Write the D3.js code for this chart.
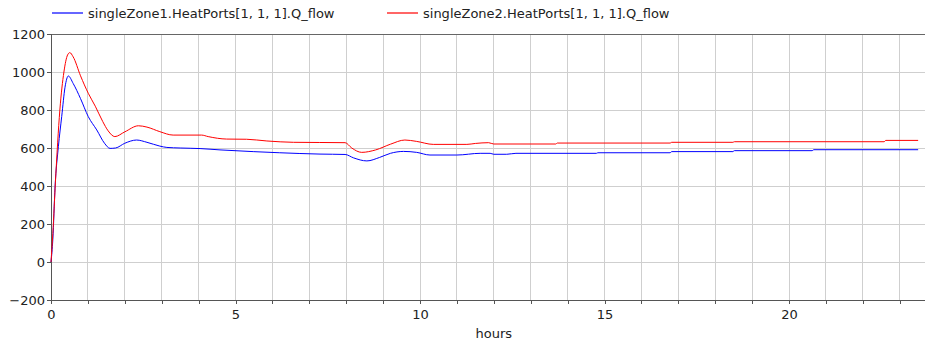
<!DOCTYPE html>
<html>
<head>
<meta charset="utf-8">
<script src="https://cdn.jsdelivr.net/npm/d3@7"></script>
<style>
  body { margin: 0; background: #fff; }
  text { font-family: "DejaVu Sans", sans-serif; font-size: 13px; fill: #222; }
</style>
</head>
<body>
<div id="chart"></div>
<script>
// series 1: singleZone1.HeatPorts[1, 1, 1].Q_flow
const hours1 = [0, 0.05, 0.11, 0.2, 0.29, 0.38, 0.47, 0.6, 0.8, 1.01, 1.24, 1.45, 1.6, 1.75, 2.0, 2.32, 2.6, 2.95, 3.14, 3.5,
    4.04, 4.58, 5.48, 6.2, 7.29, 7.97, 8.2, 8.56, 8.9, 9.2, 9.55, 9.91, 10.27, 11.0, 11.63, 11.9, 12.0, 12.35, 12.6,
    14.78, 14.82, 16.78, 16.82, 18.48, 18.52, 20.63, 20.67, 23.5];
const flow1 = [0, 120, 395, 607, 765, 920, 979, 940, 860, 765, 695, 625, 598, 600, 625, 642, 630, 610, 603, 600,
    597, 590, 581, 575, 568, 566, 548, 532, 550, 572, 582, 577, 563, 563, 572, 572, 567, 567, 572,
    572, 575, 575, 581, 581, 586, 586, 591, 591];

// series 2: singleZone2.HeatPorts[1, 1, 1].Q_flow
const hours2 = [0, 0.05, 0.12, 0.24, 0.35, 0.45, 0.51, 0.6, 0.8, 1.01, 1.2, 1.4, 1.55, 1.73, 2.0, 2.37, 2.6, 2.95, 3.31,
    4.08, 4.26, 4.76, 5.3, 5.85, 6.57, 7.97, 8.15, 8.42, 8.8, 9.2, 9.59, 9.9, 10.36, 11.27, 11.5, 11.86, 12.0,
    13.68, 13.72, 16.78, 16.82, 18.48, 18.52, 22.58, 22.62, 23.5];
const flow2 = [0, 150, 420, 800, 1000, 1090, 1102, 1080, 980, 888, 820, 740, 690, 660, 685, 717, 710, 686, 668,
    668, 660, 647, 646, 637, 630, 628, 600, 577, 590, 620, 642, 635, 619, 619, 624, 628, 621,
    621, 626, 626, 630, 630, 633, 633, 640, 640];

const seriesNames = ["singleZone1.HeatPorts[1, 1, 1].Q_flow", "singleZone2.HeatPorts[1, 1, 1].Q_flow"];
const seriesColors = ["#0000ff", "#ff0000"];
const yTicks = [-200, 0, 200, 400, 600, 800, 1000, 1200];
const xLabelTicks = [0, 5, 10, 15, 20];

const W = 925, H = 342;
const margin = { top: 34, left: 51, bottom: 42 };

const svg = d3.select("#chart").append("svg")
    .attr("width", W)
    .attr("height", H);

const x = d3.scaleLinear().domain([0, 24]).range([margin.left, margin.left + 24 * 36.9]);
const y = d3.scaleLinear().domain([-200, 1200]).range([H - margin.bottom, margin.top]);

// grid
svg.append("g").selectAll("line")
    .data(d3.range(1, 24))
    .join("line")
    .attr("x1", d => x(d)).attr("x2", d => x(d))
    .attr("y1", y(-200)).attr("y2", y(1200))
    .attr("stroke", "#cfcfcf").attr("stroke-width", 1)
    .attr("shape-rendering", "crispEdges");

svg.append("g").selectAll("line")
    .data(yTicks.slice(1, -1))
    .join("line")
    .attr("x1", x(0)).attr("x2", W)
    .attr("y1", d => y(d)).attr("y2", d => y(d))
    .attr("stroke", "#cfcfcf").attr("stroke-width", 1)
    .attr("shape-rendering", "crispEdges");

// top frame
svg.append("line")
    .attr("x1", x(0)).attr("x2", W)
    .attr("y1", y(1200)).attr("y2", y(1200))
    .attr("stroke", "#666").attr("shape-rendering", "crispEdges");

// axes
const xAxis = d3.axisBottom(x)
    .tickValues(d3.range(0, 24))
    .tickSize(4)
    .tickFormat(d => xLabelTicks.includes(d) ? d : "");
const yAxis = d3.axisLeft(y)
    .tickValues(yTicks)
    .tickSize(4)
    .tickFormat(d3.format("d"));

const gx = svg.append("g")
    .attr("transform", "translate(0," + y(-200) + ")")
    .call(xAxis);
const gy = svg.append("g")
    .attr("transform", "translate(" + x(0) + ",0)")
    .call(yAxis);

[gx, gy].forEach(g => {
    g.select(".domain").attr("stroke", "#555").attr("shape-rendering", "crispEdges");
    g.selectAll(".tick line").attr("stroke", "#555").attr("shape-rendering", "crispEdges");
    g.selectAll("text").attr("font-family", "DejaVu Sans, sans-serif").attr("font-size", 13).attr("fill", "#222");
});
gx.selectAll("text").attr("dy", "0.95em");
gy.selectAll("text").attr("x", -6);

svg.append("text")
    .attr("x", x(12))
    .attr("y", 338)
    .attr("text-anchor", "middle")
    .text("hours");

// lines
const lineGen = d3.line()
    .curve(d3.curveMonotoneX)
    .x(d => x(d[0]))
    .y(d => y(d[1]));

const data = [
    hours1.map((h, i) => [h, flow1[i]]),
    hours2.map((h, i) => [h, flow2[i]])
];

data.forEach((d, i) => {
    svg.append("path")
        .datum(d)
        .attr("fill", "none")
        .attr("stroke", seriesColors[i])
        .attr("stroke-width", 1)
        .attr("d", lineGen);
});

// legend
const legendX = [52, 387];
seriesNames.forEach((name, i) => {
    svg.append("line")
        .attr("x1", legendX[i]).attr("x2", legendX[i] + 31)
        .attr("y1", 13).attr("y2", 13)
        .attr("stroke", seriesColors[i])
        .attr("stroke-width", 1.2);
    svg.append("text")
        .attr("x", legendX[i] + 36)
        .attr("y", 18)
        .text(name);
});
</script>
</body>
</html>
